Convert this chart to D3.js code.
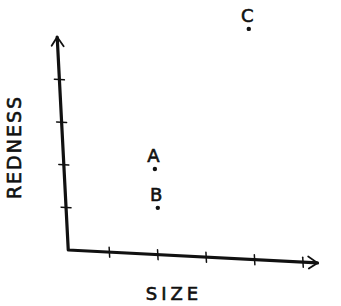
<!DOCTYPE html>
<html>
<head>
<meta charset="utf-8">
<script src="https://cdn.jsdelivr.net/npm/d3@7"></script>
<style>
  body { margin: 0; background: #fff; }
  text { font-family: "DejaVu Sans", sans-serif; fill: #111; stroke: #111; stroke-width: 0.6px; }
</style>
</head>
<body>
<div id="chart"></div>
<script>
// chart values
const xTicks = [1, 2, 3, 4, 5];
const yTicks = [1, 2, 3, 4];
const pointLabels = ["A", "B", "C"];
const pointSize = [1.94, 2.0, 3.88];
const pointRedness = [1.9, 0.99, 5.19];
const xAxisExtent = [0.15, 5.3];
const yAxisExtent = [0, 5];

const width = 341;
const height = 306;

const svg = d3.select("#chart")
    .append("svg")
    .attr("width", width)
    .attr("height", height);

const xScale = d3.scaleLinear().domain([0, 5]).range([61, 303]);
const yScale = d3.scaleLinear().domain([0, 5]).range([250, 37]);

const ox = xScale(xAxisExtent[0]);
const oy = yScale(yAxisExtent[0]);
const shear = 0.052;

// hand drawn axes lean a little, so shear them around the origin
const axes = svg.append("g")
    .attr("transform", `translate(${ox},${oy}) matrix(1,${shear},${shear},1,0,0) translate(${-ox},${-oy})`)
    .attr("stroke", "#111")
    .attr("fill", "none")
    .attr("stroke-linecap", "round")
    .attr("stroke-linejoin", "round");

const xEnd = xScale(xAxisExtent[1]);
const yEnd = yScale(yAxisExtent[1]);

axes.append("path")
    .attr("stroke-width", 3.2)
    .attr("d", `M${ox},${yEnd} L${ox},${oy} L${xEnd},${oy}`);

// arrow heads
axes.append("path")
    .attr("stroke-width", 1.8)
    .attr("d", `M${ox - 6},${yEnd + 9} L${ox},${yEnd} L${ox + 6},${yEnd + 9}`);
axes.append("path")
    .attr("stroke-width", 1.8)
    .attr("d", `M${xEnd - 9},${oy - 6} L${xEnd},${oy} L${xEnd - 9},${oy + 6}`);

axes.selectAll(".xtick")
    .data(xTicks)
    .enter()
    .append("line")
    .attr("class", "xtick")
    .attr("stroke-width", 1.5)
    .attr("x1", d => xScale(d))
    .attr("x2", d => xScale(d))
    .attr("y1", oy - 5)
    .attr("y2", oy + 5);

axes.selectAll(".ytick")
    .data(yTicks)
    .enter()
    .append("line")
    .attr("class", "ytick")
    .attr("stroke-width", 1.5)
    .attr("x1", ox - 5)
    .attr("x2", ox + 5)
    .attr("y1", d => yScale(d))
    .attr("y2", d => yScale(d));

// points
const points = pointLabels.map((label, i) => ({ label, x: pointSize[i], y: pointRedness[i] }));

svg.selectAll("circle")
    .data(points)
    .enter()
    .append("circle")
    .attr("cx", d => xScale(d.x))
    .attr("cy", d => yScale(d.y))
    .attr("r", 2.2)
    .attr("fill", "#111");

svg.selectAll(".plabel")
    .data(points)
    .enter()
    .append("text")
    .attr("class", "plabel")
    .attr("x", d => xScale(d.x) - 1.5)
    .attr("y", d => yScale(d.y) - 7)
    .attr("text-anchor", "middle")
    .style("font-size", "18px")
    .text(d => d.label);

// axis labels
svg.append("text")
    .attr("x", 174)
    .attr("y", 300)
    .attr("text-anchor", "middle")
    .style("font-size", "18px")
    .style("letter-spacing", "4px")
    .text("SIZE");

svg.append("text")
    .attr("transform", "translate(21,147) rotate(-90)")
    .attr("text-anchor", "middle")
    .style("font-size", "19px")
    .style("letter-spacing", "2px")
    .text("REDNESS");
</script>
</body>
</html>
